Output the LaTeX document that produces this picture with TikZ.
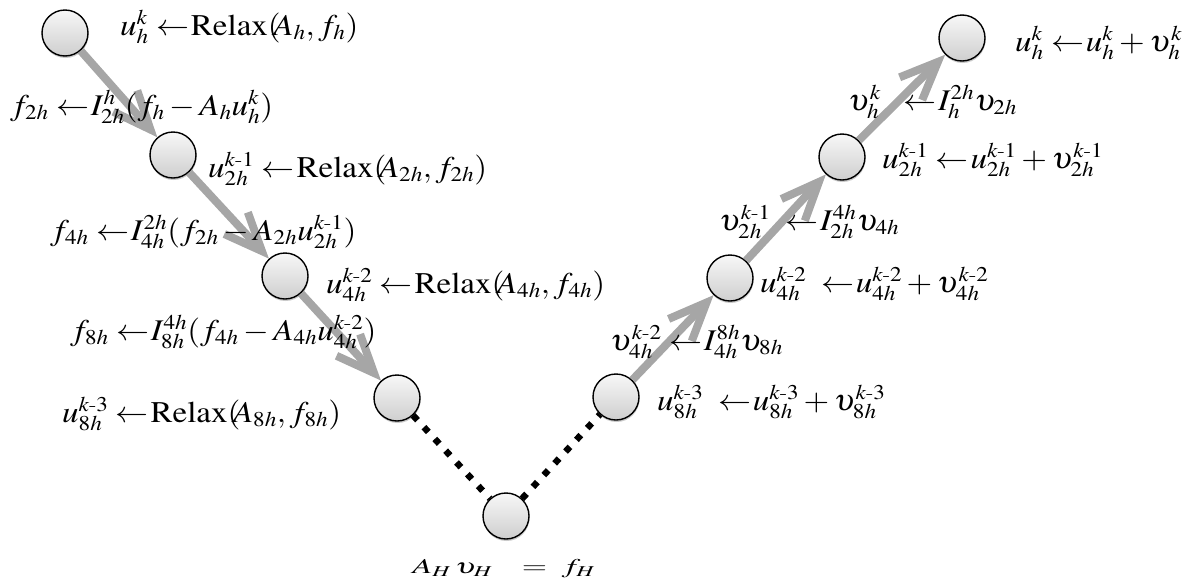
\documentclass[tikz,border=0pt]{standalone}
\usepackage{mathptmx}
\usepackage{amsmath}
\usepackage{graphicx}
\usetikzlibrary{arrows.meta,shadows}
\DeclareMathSizes{30}{30}{21}{15}
\DeclareMathSizes{21}{21}{15}{11}
\definecolor{arrowgray}{HTML}{A6A6A6}
\newcommand{\lar}{\mathrel{\leftarrow}\mkern-3mu}
\newcommand{\Rlx}{\mathrm{Relax}(\mkern-4mu}
\newcommand{\mn}{\text{-}}
\newcommand{\sx}[1]{\scalebox{1.1}[1]{#1}}
\newcommand{\sxb}[1]{\scalebox{1.55}[1]{#1}}
\begin{document}
\begin{tikzpicture}[x=1pt,y=-1pt,
  vnode/.style={circle, draw=black, line width=1.4pt, minimum size=46pt, inner sep=0pt,
    top color=gray!6, bottom color=gray!38,
    drop shadow={shadow xshift=0.5pt, shadow yshift=-2pt, opacity=0.35, fill=black!60}},
  garrow/.style={draw=arrowgray, line width=8pt, -{Straight Barb[length=38pt,width=32pt]}},
  dotline/.style={draw=black, line width=6.5pt, dash pattern=on 6.5pt off 9.5pt},
  lab/.style={anchor=base west, inner sep=0pt, font=\fontsize{30}{36}\selectfont},
  smalllab/.style={anchor=base, inner sep=0pt, font=\fontsize{21}{25}\selectfont}]
\useasboundingbox (0,0) rectangle (1188,587);
% vertices
\node[vnode] (a1) at (65,33) {};
\node[vnode] (a2) at (173,155) {};
\node[vnode] (a3) at (285,276) {};
\node[vnode] (a4) at (397,398) {};
\node[vnode] (b0) at (506,516) {};
\node[vnode] (c4) at (616,397) {};
\node[vnode] (c3) at (730,278) {};
\node[vnode] (c2) at (842,157) {};
\node[vnode] (c1) at (962,38) {};
% connectors
\draw[garrow] (a1) -- (a2);
\draw[garrow] (a2) -- (a3);
\draw[garrow] (a3) -- (a4);
\draw[dotline] (a4) -- (b0);
\draw[dotline] (b0) -- (c4);
\draw[garrow] (c4) -- (c3);
\draw[garrow] (c3) -- (c2);
\draw[garrow] (c2) -- (c1);
% left labels
\node[lab] (l1) at (120,35) {\sx{$u^k_h \lar \Rlx A_h, f_h)$}};
\node[lab] (l2) at (10,115) {\sx{$f_{2h} \lar I^h_{2h}(f_h - A_h u^k_h)$}};
\node[lab] (l3) at (208,177) {\sx{$u^{k\mn1}_{2h} \lar \Rlx A_{2h}, f_{2h})$}};
\node[lab] (l4) at (50,240) {\sx{$f_{4h} \lar I^{2h}_{4h}(f_{2h} - A_{2h}u^{k\mn1}_{2h})$}};
\node[lab] (l5) at (326,293) {\sx{$u^{k\mn2}_{4h} \lar \Rlx A_{4h}, f_{4h})$}};
\node[lab] (l6) at (70,340) {\sx{$f_{8h} \lar I^{4h}_{8h}(f_{4h} - A_{4h}u^{k\mn2}_{4h})$}};
\node[lab] (l7) at (62,422) {\sx{$u^{k\mn3}_{8h} \lar \Rlx A_{8h}, f_{8h})$}};
% bottom label
\node[smalllab] (bl) at (504,573) {\sxb{$A_H\,\upsilon_H\;\;\; = \;f_H$}};
% right labels
\node[lab] (r1) at (1015,51) {\sx{$u^k_h \lar u^k_h + \upsilon^k_h$}};
\node[lab] (r2) at (848,110) {\sx{$\upsilon^k_h \;\;\lar I^{2h}_h \upsilon_{2h}$}};
\node[lab] (r3) at (882,168) {\sx{$u^{k\mn1}_{2h} \lar u^{k\mn1}_{2h} + \upsilon^{k\mn1}_{2h}$}};
\node[lab] (r4) at (719,230) {\sx{$\upsilon^{k\mn1}_{2h} \;\lar I^{4h}_{2h}\upsilon_{4h}$}};
\node[lab] (r5) at (760,292) {\sx{$u^{k\mn2}_{4h} \;\lar u^{k\mn2}_{4h} + \upsilon^{k\mn2}_{4h}$}};
\node[lab] (r6) at (610,350) {\sx{$\upsilon^{k\mn2}_{4h} \lar I^{8h}_{4h}\upsilon_{8h}$}};
\node[lab] (r7) at (657,410) {\sx{$u^{k\mn3}_{8h} \;\lar u^{k\mn3}_{8h} + \upsilon^{k\mn3}_{8h}$}};
\end{tikzpicture}
\end{document}
